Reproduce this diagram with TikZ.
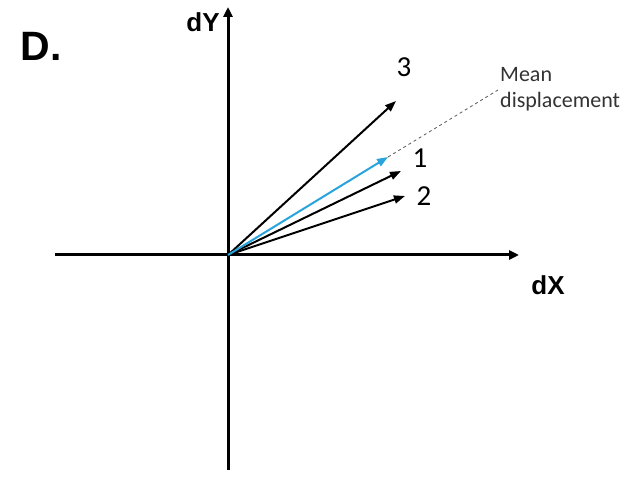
\documentclass[tikz,border=0pt]{standalone}
\usepackage{fontspec}
\setmainfont{Carlito}
\newfontfamily\arialbold{Liberation Sans}
\usetikzlibrary{arrows.meta}
\begin{document}
\begin{tikzpicture}[x=1pt,y=-1pt,
  axis/.style={line width=3pt,-{Triangle[length=10pt,width=9pt]}},
  vec/.style={line width=2pt,-{Triangle[length=11pt,width=8pt]}},
  num/.style={font=\fontsize{29}{29}\selectfont,inner sep=0pt},
  bold/.style={font=\arialbold\bfseries\fontsize{26}{26}\selectfont,inner sep=0pt}]
\useasboundingbox (0,0) rectangle (634,478);
\coordinate (O) at (228,255);
\coordinate (ybot) at (228,470);
\coordinate (ytop) at (228,7);
\coordinate (xl) at (55,255);
\coordinate (xr) at (519,255);
\coordinate (t3) at (396,101);
\coordinate (t1) at (401,171);
\coordinate (t2) at (405,196);
\coordinate (tm) at (388,157);
\coordinate (dend) at (498,90);
\draw[axis] (ybot) -- (ytop);
\draw[axis] (xl) -- (xr);
\draw[dashed,gray!70!black,line width=0.8pt] (tm) -- (dend);
\draw[vec] (O) -- (t3);
\draw[vec] (O) -- (t1);
\draw[vec] (O) -- (t2);
\draw[vec,color={rgb,255:red,41;green,163;blue,219}] (O) -- (tm);
\node[num] (n3) at (404,67) {3};
\node[num] (n1) at (420,158) {1};
\node[num] (n2) at (424,196) {2};
\node[anchor=north west,align=left,inner sep=0pt,font=\fontsize{22}{26}\selectfont,text=black!80] (md) at (500,67) {Mean\\displacement};
\node[font=\arialbold\bfseries\fontsize{41}{41}\selectfont,inner sep=0pt] (D) at (41,46) {D.};
\node[bold] (dY) at (203,22) {dY};
\node[bold] (dX) at (548,285) {dX};
\end{tikzpicture}
\end{document}
